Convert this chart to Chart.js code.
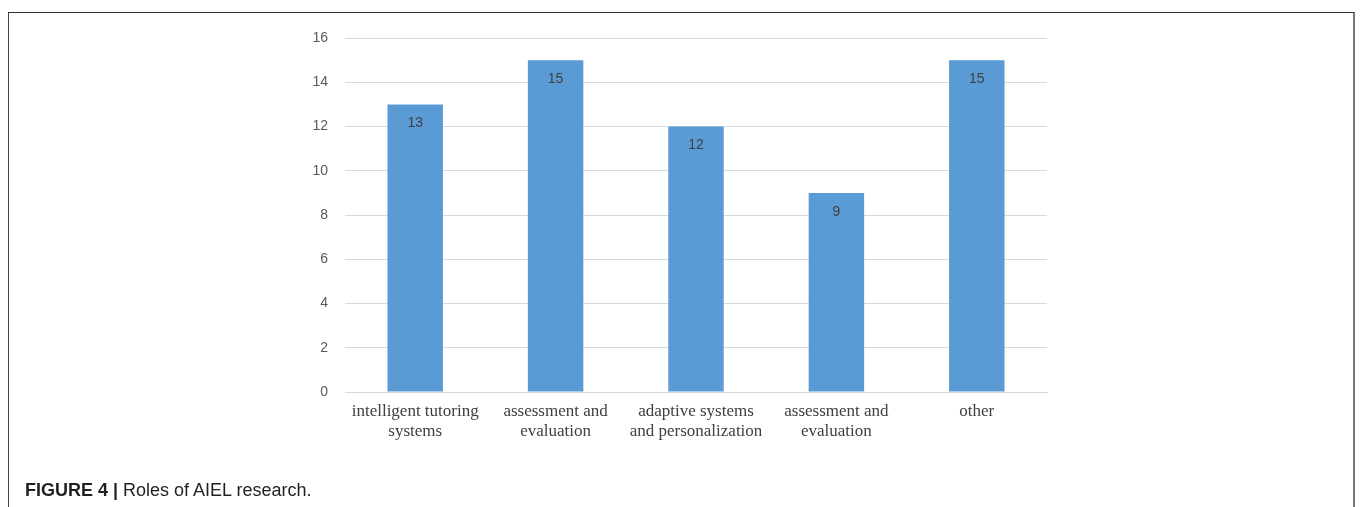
<!DOCTYPE html>
<html>
<head>
<meta charset="utf-8">
<script src="https://cdn.jsdelivr.net/npm/chart.js@4"></script>
<style>
  html, body { margin: 0; padding: 0; background: #fff; }
  #wrap { position: relative; width: 1360px; height: 507px; overflow: hidden; }
  #frame {
    position: absolute; left: 8px; top: 12px; width: 1347px; height: 520px;
    border-top: 1px solid #333; border-left: 1px solid #444; border-right: 2px solid #777;
    box-sizing: border-box;
  }
  #grafico { position: absolute; left: 0; top: 0; }
  #legenda {
    position: absolute; left: 25px; top: 480px;
    font-family: "Liberation Sans", Arial, sans-serif; font-size: 18px; color: #231f20;
  }
  #legenda b { font-weight: bold; }
</style>
</head>
<body>
<div id="wrap">
  <div id="frame"></div>
  <canvas id="grafico" width="1360" height="507"></canvas>
  <div id="legenda"><b>FIGURE 4 |</b> Roles of AIEL research.</div>
</div>
<script>
// Dados do gráfico
const categorias = [
    ['intelligent tutoring', 'systems'],
    ['assessment and', 'evaluation'],
    ['adaptive systems', 'and personalization'],
    ['assessment and', 'evaluation'],
    'other'
];
const valores = [13, 15, 12, 9, 15];
const eixoY = { min: 0, max: 16, passo: 2 };

// Plugin simples para escrever o valor dentro da barra
const rotulosBarras = {
    id: 'rotulosBarras',
    afterDatasetsDraw(chart) {
        const ctx = chart.ctx;
        const meta = chart.getDatasetMeta(0);
        ctx.save();
        ctx.font = '14px "Liberation Sans", Arial, sans-serif';
        ctx.fillStyle = '#404040';
        ctx.textAlign = 'center';
        ctx.textBaseline = 'middle';
        meta.data.forEach((barra, i) => {
            ctx.fillText(String(valores[i]), barra.x, barra.y + 19);
        });
        ctx.restore();
    }
};

document.addEventListener('DOMContentLoaded', function () {
    const canvas = document.getElementById('grafico');
    new Chart(canvas, {
        type: 'bar',
        data: {
            labels: categorias,
            datasets: [{
                data: valores,
                backgroundColor: '#5b9bd5',
                borderWidth: 0,
                categoryPercentage: 1,
                barPercentage: 0.395
            }]
        },
        options: {
            responsive: false,
            animation: false,
            devicePixelRatio: 1,
            layout: { padding: { left: 300, right: 313, top: 38, bottom: 55 } },
            plugins: {
                legend: { display: false },
                tooltip: { enabled: false }
            },
            scales: {
                x: {
                    grid: { display: false, drawTicks: false },
                    border: { color: '#d9d9d9' },
                    ticks: {
                        padding: 9,
                        color: '#404040',
                        maxRotation: 0,
                        autoSkip: false,
                        font: { family: '"Liberation Serif", "Times New Roman", serif', size: 17, lineHeight: 1.2 }
                    },
                    afterFit(s) { s.height = 60; }
                },
                y: {
                    min: eixoY.min,
                    max: eixoY.max,
                    grid: { color: '#d9d9d9', drawTicks: false },
                    border: { display: false },
                    ticks: {
                        stepSize: eixoY.passo,
                        padding: 17,
                        color: '#595959',
                        font: { family: '"Liberation Sans", Arial, sans-serif', size: 14 }
                    },
                    afterFit(s) { s.width = 45; }
                }
            }
        },
        plugins: [rotulosBarras]
    });
});
</script>
</body>
</html>
